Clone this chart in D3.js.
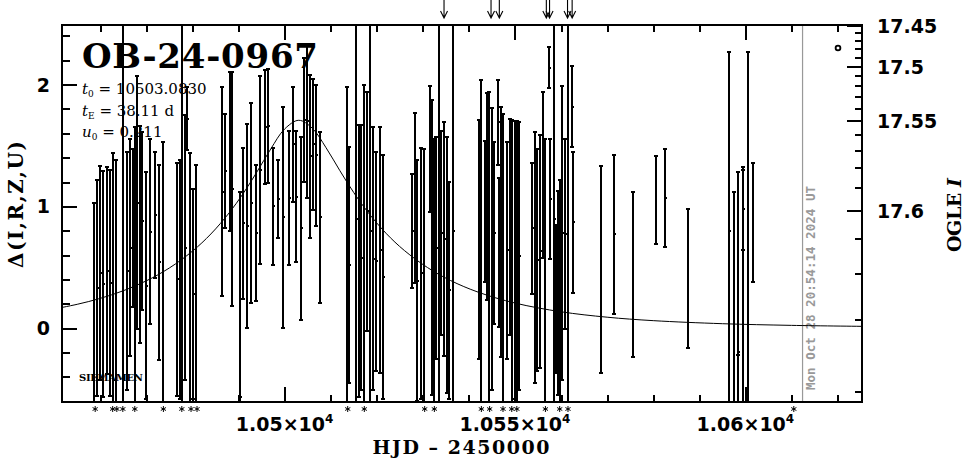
<!DOCTYPE html>
<html><head><meta charset="utf-8">
<script src="https://cdn.jsdelivr.net/npm/d3@7"></script>
<style>body{margin:0;background:#fff}svg{display:block}</style>
</head><body><svg id="c" width="965" height="459"></svg>
<script>
// ---------- data (HJD-2450000, Delta, error) ----------
const tObs = [10458.65,10459.30,10459.95,10460.60,10461.47,10462.12,10462.77,10463.42,10464.94,10465.81,10466.46,10467.11,10467.55,10467.98,10468.63,10469.07,10469.94,10470.81,10471.89,10472.76,10473.63,10476.67,10477.32,10477.75,10478.40,10478.84,10479.49,10480.14,10480.79,
10486.44,10487.09,10488.17,10488.61,10490.35,10491.00,10491.87,10492.73,10493.82,10494.69,10495.77,10496.43,10497.51,10498.60,10499.68,10500.98,10501.85,10502.50,10503.59,10504.24,10504.89,10505.54,10506.20,10506.85,10507.72,
10513.58,10514.01,10515.53,10516.18,10516.62,10517.27,10517.92,10518.57,10519.22,10519.87,10520.74,10521.39,
10527.69,10528.34,10528.78,10529.65,10530.30,10531.60,10532.03,10532.47,10532.90,10533.55,10533.99,10534.64,10535.29,10535.72,10536.59,
10542.24,10542.67,10543.54,10543.98,10544.41,10545.06,10545.50,10546.37,10546.58,10547.01,10547.45,10548.32,10548.97,10549.40,10550.05,10550.49,10550.92,
10553.74,10554.39,10554.83,10555.48,10556.13,10556.57,10557.44,10557.65,10558.52,10558.96,10559.39,10559.82,10560.26,10560.91,10561.56,10562.43,10562.64,
10568.66,10571.50,10575.50,10580.50,10582.60,10587.50,10596.51,10597.45,10598.30,10598.50,10599.49,10599.40,10600.48,10601.56];
const dObs = [-0.75,0.33,0.45,0.36,0.47,0.37,-0.70,-0.72,-0.80,0.47,0.66,0.82,-0.68,1.03,0.77,0.88,0.35,0.79,0.93,0.54,-0.70,0.40,0.40,-0.90,0.66,1.72,-0.70,0.28,-0.72,
1.12,1.29,1.45,1.14,-0.57,0.86,0.84,1.03,0.78,1.30,1.65,1.66,1.00,1.06,0.91,1.07,1.51,1.08,0.82,1.71,1.70,1.41,1.51,1.42,0.91,
-0.70,0.52,0.90,0.55,0.58,-0.72,0.96,0.80,0.57,0.55,0.64,0.42,
0.80,1.07,0.39,0.45,-0.68,1.47,0.66,-0.70,0.66,0.90,0.78,0.73,0.52,0.31,0.80,
0.73,-0.70,0.96,1.08,-0.70,0.65,0.78,1.69,0.62,0.79,-0.70,0.64,0.83,-0.70,0.56,-0.70,0.59,
0.82,0.58,0.56,0.63,1.26,-0.70,2.14,1.06,0.90,0.24,0.29,-0.70,0.78,0.77,-0.90,1.82,0.87,
0.48,0.77,0.44,1.05,1.07,0.41,0.80,-0.45,0.53,-0.20,0.98,0.15,0.60,0.87];
const eObs = [1.78,0.89,0.88,0.93,0.85,0.93,2.14,2.10,3.40,0.98,0.89,0.65,2.33,1.04,0.89,0.73,0.93,0.76,0.52,0.80,2.23,0.96,0.98,3.50,1.09,0.26,2.14,0.86,2.06,
0.86,0.47,0.65,0.96,1.69,0.62,0.84,0.82,0.56,0.77,0.47,0.47,0.48,0.32,0.91,0.55,0.47,0.54,0.75,0.51,0.63,0.67,0.54,0.58,0.70,
2.68,0.97,2.00,1.12,1.09,2.72,0.98,2.10,1.08,0.90,1.01,1.00,
0.47,0.70,0.99,1.03,2.15,0.52,1.21,2.25,0.91,2.00,0.84,0.96,1.05,0.89,2.10,
0.98,2.74,0.58,0.85,2.64,1.16,0.75,0.35,0.61,1.03,2.46,0.89,0.89,2.41,1.14,2.40,1.10,
0.54,1.03,0.91,0.96,0.68,2.25,0.17,0.49,2.00,0.61,0.84,1.92,1.21,0.78,3.50,0.33,0.58,
0.85,0.65,0.68,0.36,0.40,0.57,1.47,1.57,0.75,1.48,0.34,1.15,1.67,0.49];
// points above / below the plotted range
const aboveT = [10534.6,10544.8,10546.6,10556.8,10557.5,10561.4,10562.4];
const belowT = [10458.9,10462.7,10463.6,10464.9,10467.5,10473.7,10477.7,10479.7,10481.0,10513.7,10517.3,10530.4,10532.5,10542.7,10544.5,10547.4,10549.3,10550.4,10556.6,10559.7,10561.5,10610.5];
// model curve (t0=10503.0830, tE=38.11, u0=0.211)
const curveT = [10450,10455,10460,10465,10470,10475,10480,10484,10488,10491,10494,10497,10500,10503.083,10506,10509,10512,10515,10518,10522,10526,10531,10536,10542,10550,10560,10570,10580,10595,10610,10627];
const curveD = [0.1576,0.1956,0.2443,0.3070,0.3883,0.4940,0.6321,0.7731,0.9480,1.1048,1.2829,1.4716,1.6353,1.7072,1.6424,1.4818,1.2933,1.1141,0.9561,0.7796,0.6374,0.4979,0.3913,0.2954,0.2059,0.1341,0.0896,0.0613,0.0363,0.0225,0.0138];
const nowT = 10612.4;
// ticks
const xMajor = [10500,10550,10600];
const xMajorLabels = ["1.05","1.055","1.06"];
const xMinor = [10460,10470,10480,10490,10510,10520,10530,10540,10560,10570,10580,10590,10610,10620];
const yMajor = [0,1,2];
const yMinor = [-0.4,-0.2,0.2,0.4,0.6,0.8,1.2,1.4,1.6,1.8,2.2,2.4];
const magMajor = [17.45,17.5,17.55,17.6];
const magLabels = ["17.45","17.5","17.55","17.6"];
const magMinor = [17.46,17.47,17.48,17.49,17.51,17.52,17.53,17.54,17.56,17.57,17.58,17.59,17.61,17.62,17.63,17.64];
// flux relation between Delta and OGLE I (blend)
const magRef = 17.45, fluxBase = 0.82869, fluxSlope = 0.01745;
const magToDelta = m => 2.5*Math.log10((Math.pow(10,-0.4*(m-magRef))-fluxBase)/fluxSlope);

// ---------- layout ----------
const L=62,R=862,T=25,B=402;
const x = d3.scaleLinear().domain([10451.7,10625.3]).range([L,R]);
const y = d3.scaleLinear().domain([-0.607,2.49]).range([B,T]);
const svg = d3.select("#c");
svg.append("clipPath").attr("id","clip").append("rect").attr("x",L).attr("y",T).attr("width",R-L).attr("height",B-T);

// now line + date
svg.append("line").attr("x1",x(nowT)).attr("x2",x(nowT)).attr("y1",T).attr("y2",B)
  .attr("stroke","#999").attr("stroke-width",1.2);
svg.append("text").attr("transform",`translate(${x(nowT)+12},390) rotate(-90)`)
  .attr("font-family","DejaVu Sans Mono").attr("font-weight","bold").attr("font-size",12)
  .attr("fill","#999").attr("textLength",204).attr("lengthAdjust","spacingAndGlyphs")
  .text("Mon Oct 28 20:54:14 2024 UT");

const g = svg.append("g").attr("clip-path","url(#clip)");
const obs = tObs.map((t,i)=>({t,d:dObs[i],e:eObs[i]}));
const bars = g.append("g").attr("stroke","#000").attr("stroke-width",2).attr("shape-rendering","crispEdges");
bars.selectAll("line.v").data(obs).join("line").attr("class","v")
  .attr("x1",o=>x(o.t)).attr("x2",o=>x(o.t)).attr("y1",o=>y(o.d+o.e)).attr("y2",o=>y(o.d-o.e));
bars.selectAll("line.ct").data(obs).join("line").attr("class","ct")
  .attr("x1",o=>x(o.t)-2).attr("x2",o=>x(o.t)+2).attr("y1",o=>y(o.d+o.e)).attr("y2",o=>y(o.d+o.e));
bars.selectAll("line.cb").data(obs).join("line").attr("class","cb")
  .attr("x1",o=>x(o.t)-2).attr("x2",o=>x(o.t)+2).attr("y1",o=>y(o.d-o.e)).attr("y2",o=>y(o.d-o.e));
g.append("g").attr("shape-rendering","crispEdges").selectAll("rect").data(obs).join("rect")
  .attr("x",o=>x(o.t)-1).attr("y",o=>y(o.d)-1).attr("width",2.5).attr("height",2).attr("fill","#000");
const curve = curveT.map((t,i)=>[t,curveD[i]]);
g.append("path").datum(curve).attr("fill","none").attr("stroke","#000").attr("stroke-width",1)
  .attr("d",d3.line().x(p=>x(p[0])).y(p=>y(p[1])).curve(d3.curveCatmullRom));

// arrows & stars
const ar = svg.append("g").attr("stroke","#000").attr("stroke-width",1.1).attr("fill","none");
ar.selectAll("path").data(aboveT).join("path")
  .attr("d",t=>{const X=x(t);return `M${X},0L${X},18M${X-3.5},11L${X},18L${X+3.5},11`;});
const st = svg.append("g").attr("stroke","#000").attr("stroke-width",1);
st.selectAll("path").data(belowT).join("path")
  .attr("d",t=>{const X=x(t),Y=409;return `M${X},${Y-3}L${X},${Y+3}M${X-2.6},${Y-1.5}L${X+2.6},${Y+1.5}M${X-2.6},${Y+1.5}L${X+2.6},${Y-1.5}`;});

// axes (inward ticks)
function tk(sel){sel.select(".domain").remove();sel.selectAll("line").attr("stroke-width",2).attr("shape-rendering","crispEdges");}
svg.append("g").attr("transform",`translate(0,${B})`).call(d3.axisBottom(x).tickValues(xMinor).tickSize(-7).tickFormat("")).call(tk);
svg.append("g").attr("transform",`translate(0,${B})`).call(d3.axisBottom(x).tickValues(xMajor).tickSize(-15).tickFormat("")).call(tk);
svg.append("g").attr("transform",`translate(0,${T})`).call(d3.axisTop(x).tickValues(xMinor).tickSize(-7).tickFormat("")).call(tk);
svg.append("g").attr("transform",`translate(0,${T})`).call(d3.axisTop(x).tickValues(xMajor).tickSize(-15).tickFormat("")).call(tk);
svg.append("g").attr("transform",`translate(${L},0)`).call(d3.axisLeft(y).tickValues(yMinor).tickSize(-8).tickFormat("")).call(tk);
svg.append("g").attr("transform",`translate(${L},0)`).call(d3.axisLeft(y).tickValues(yMajor).tickSize(-15).tickFormat("")).call(tk);
const rt = svg.append("g").attr("stroke","#000").attr("stroke-width",2).attr("shape-rendering","crispEdges");
rt.selectAll("line.mn").data(magMinor).join("line").attr("class","mn")
  .attr("x1",R-7).attr("x2",R).attr("y1",m=>y(magToDelta(m))).attr("y2",m=>y(magToDelta(m)));
rt.selectAll("line.mj").data(magMajor).join("line").attr("class","mj")
  .attr("x1",R-15).attr("x2",R).attr("y1",m=>y(magToDelta(m))).attr("y2",m=>y(magToDelta(m)));

svg.append("rect").attr("x",L).attr("y",T).attr("width",R-L).attr("height",B-T)
  .attr("fill","none").attr("stroke","#000").attr("stroke-width",2).attr("shape-rendering","crispEdges");

// labels
const lab = svg.append("g").attr("font-family","DejaVu Sans").attr("font-weight","bold").attr("fill","#000");
xMajor.forEach((v,i)=>{
  const t = lab.append("text").attr("x",x(v)).attr("y",431).attr("text-anchor","middle").attr("font-size",19);
  t.append("tspan").text(xMajorLabels[i]+"×10");
  t.append("tspan").attr("font-size",12).attr("dy",-8).text("4");
});
yMajor.forEach(v=>lab.append("text").attr("x",50).attr("y",y(v)+7).attr("text-anchor","end").attr("font-size",19).text(v));
magMajor.forEach((m,i)=>lab.append("text").attr("x",877).attr("y",y(magToDelta(m))+7).attr("font-size",19).text(magLabels[i]));
lab.append("text").attr("x",461).attr("y",454).attr("text-anchor","middle").attr("font-size",19)
  .attr("font-family","DejaVu Serif").attr("textLength",177).text("HJD – 2450000");
lab.append("text").attr("transform","translate(23,268) rotate(-90)").attr("font-size",20)
  .attr("font-family","DejaVu Serif").attr("textLength",127).text("Δ(I,R,Z,U)");
const og = lab.append("text").attr("transform","translate(961,252) rotate(-90)").attr("font-size",19)
  .attr("font-family","DejaVu Serif").attr("textLength",74);
og.append("tspan").text("OGLE ");
og.append("tspan").attr("font-style","italic").text("I");
lab.append("text").attr("x",82).attr("y",68).attr("font-size",34).attr("font-family","DejaVu Serif")
  .attr("textLength",236).text("OB-24-0967");

const par = svg.append("g").attr("font-family","DejaVu Serif").attr("font-size",15).attr("fill","#000");
function prm(yb, sym, sub, val){
  const t = par.append("text").attr("x",82).attr("y",yb);
  t.append("tspan").attr("font-style","italic").text(sym);
  t.append("tspan").attr("font-size",9).attr("dy",3).text(sub);
  t.append("tspan").attr("dy",-3).text(" = "+val);
}
prm(94,"t","0","10503.0830");
prm(116,"t","E","38.11 d");
prm(137,"u","0","0.211");
svg.append("text").attr("x",79).attr("y",381).attr("font-family","DejaVu Serif").attr("font-weight","bold")
  .attr("font-size",10).attr("textLength",64).text("SIEMAMEN");
svg.append("circle").attr("cx",838).attr("cy",48).attr("r",2.4).attr("fill","none").attr("stroke","#000").attr("stroke-width",1.8);
</script></body></html>
